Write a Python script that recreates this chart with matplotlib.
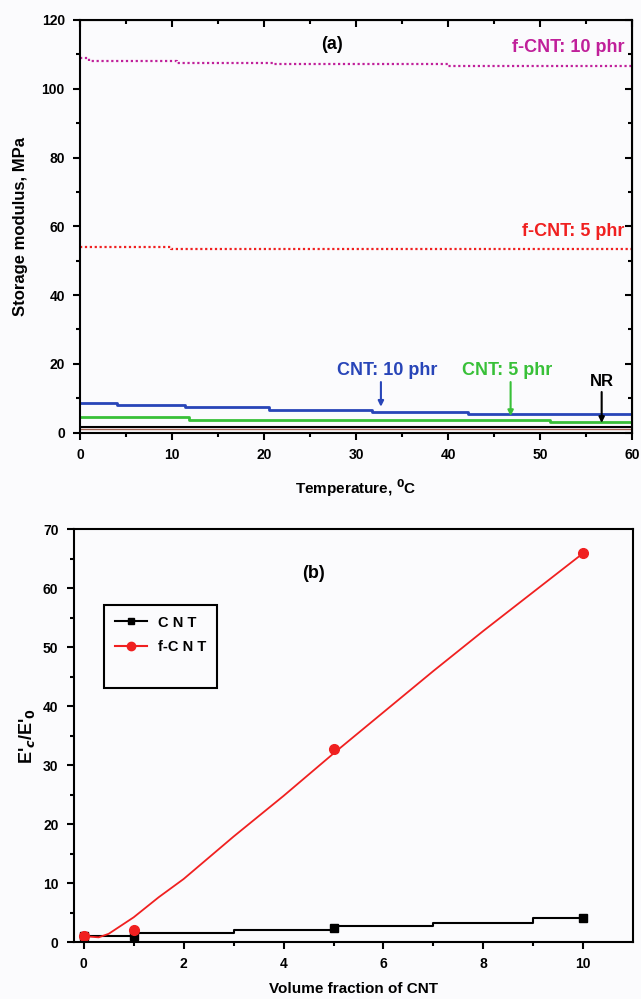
import matplotlib
matplotlib.use("Agg")
import matplotlib.pyplot as plt
from matplotlib.lines import Line2D

plt.rcParams['font.family'] = ['Liberation Sans', 'DejaVu Sans']
plt.rcParams['font.weight'] = 'bold'

# ---- Panel (a) data: storage modulus vs temperature ----
fcnt10_T = [0, 1, 10.5, 21, 40, 60]
fcnt10_E = [108.8, 108.0, 107.6, 107.1, 106.6, 106.6]
fcnt5_T = [0, 9.9, 60]
fcnt5_E = [53.9, 53.4, 53.4]
cnt10_T = [0, 4.0, 11.4, 20.5, 31.7, 42.2, 60]
cnt10_E = [8.5, 7.9, 7.3, 6.6, 6.1, 5.5, 5.5]
cnt5_T = [0, 11.8, 51.1, 60]
cnt5_E = [4.4, 3.7, 3.0, 3.0]
nr_T = [0, 60]
nr_E = [1.7, 1.7]
base_T = [0, 60]
base_E = [0.9, 0.9]

# ---- Panel (b) data: E'c/E'0 vs volume fraction ----
vf = [0, 1, 5, 10]
ratio_cnt = [1.0, 1.1, 2.4, 4.0]
ratio_fcnt = [1.1, 2.0, 32.8, 66.0]
fit_cnt_x = [0, 2, 4, 6, 8, 10]
fit_cnt_y = [1.0, 1.5, 2.1, 2.7, 3.3, 4.0]
fit_fcnt_x = [0, 0.3, 0.5, 1, 1.5, 2, 3, 4, 5, 6, 7, 8, 9, 10]
fit_fcnt_y = [1.0, 0.8, 1.4, 4.2, 7.6, 10.7, 17.9, 24.8, 32.0, 39.0, 46.0, 52.8, 59.4, 66.0]

bg = '#fbfbfd'
fig = plt.figure(figsize=(6.41, 9.99), dpi=100, facecolor=bg)

# ---------- Panel (a) ----------
axa = fig.add_axes([0.125, 0.567, 0.861, 0.413], facecolor=bg)
mag = '#c0209a'
red = '#f02020'
blue = '#2845b8'
green = '#38c038'

axa.plot(fcnt10_T, fcnt10_E, drawstyle='steps-post', color=mag, lw=1.6, ls=(0, (1, 1.2)))
axa.plot(fcnt5_T, fcnt5_E, drawstyle='steps-post', color=red, lw=1.6, ls=(0, (1, 1.2)))
axa.plot(cnt10_T, cnt10_E, drawstyle='steps-post', color=blue, lw=2)
axa.plot(cnt5_T, cnt5_E, drawstyle='steps-post', color=green, lw=2)
axa.plot(nr_T, nr_E, color='black', lw=1.5)
axa.plot(base_T, base_E, color='#a06050', lw=1)

axa.set_xlim(0, 60)
axa.set_ylim(0, 120)
axa.set_xticks(range(0, 61, 10))
axa.set_xticks(range(5, 60, 10), minor=True)
axa.set_yticks(range(0, 121, 20))
axa.set_yticks(range(10, 120, 20), minor=True)
axa.tick_params(direction='out', length=5, width=1.5, labelsize=10, pad=6)
axa.tick_params(which='minor', direction='out', length=3, width=1.5)
for s in axa.spines.values():
    s.set_linewidth(1.5)
sec = axa.secondary_xaxis('top')
sec.set_xticks(range(0, 61, 10))
sec.set_xticks(range(5, 60, 10), minor=True)
sec.tick_params(direction='in', length=5, width=1.5, labeltop=False)
sec.tick_params(which='minor', direction='in', length=3, width=1.5)
secy = axa.secondary_yaxis('right')
secy.set_yticks(range(0, 121, 20))
secy.set_yticks(range(10, 120, 20), minor=True)
secy.tick_params(direction='in', length=5, width=1.5, labelright=False)
secy.tick_params(which='minor', direction='in', length=3, width=1.5)

axa.set_xlabel('Temperature, $^{0}$C', fontsize=11, fontweight='bold', labelpad=11)
axa.set_ylabel('Storage modulus, MPa', fontsize=12, fontweight='bold', labelpad=10)

axa.text(27.4, 113, '(a)', fontsize=13, ha='center', va='center')
axa.text(59.2, 112, 'f-CNT: 10 phr', color=mag, fontsize=13, ha='right', va='center')
axa.text(59.2, 58.5, 'f-CNT: 5 phr', color=red, fontsize=13, ha='right', va='center')
axa.text(33.4, 18, 'CNT: 10 phr', color=blue, fontsize=13, ha='center', va='center')
axa.text(46.4, 18, 'CNT: 5 phr', color=green, fontsize=13, ha='center', va='center')
axa.text(56.7, 14.8, 'NR', color='black', fontsize=12, ha='center', va='center')
for xa, y0, y1, c in [(32.7, 15.5, 6.7, blue), (46.8, 15.5, 4.0, green), (56.7, 12.6, 2.0, 'black')]:
    axa.annotate('', xy=(xa, y1), xytext=(xa, y0),
                 arrowprops=dict(arrowstyle='-|>', color=c, lw=1.5, mutation_scale=8))

# ---------- Panel (b) ----------
axb = fig.add_axes([0.115, 0.057, 0.873, 0.413], facecolor=bg)
axb.plot(fit_cnt_x, fit_cnt_y, drawstyle='steps-mid', color='black', lw=1.5)
axb.plot(fit_fcnt_x, fit_fcnt_y, color=red, lw=1.3)
axb.plot(vf, ratio_cnt, ls='none', marker='s', color='black', ms=6)
axb.plot(vf, ratio_fcnt, ls='none', marker='o', color=red, ms=7)

axb.set_xlim(-0.2, 11)
axb.set_ylim(0, 70)
axb.set_xticks(range(0, 11, 2))
axb.set_xticks(range(1, 11, 2), minor=True)
axb.set_yticks(range(0, 71, 10))
axb.set_yticks(range(5, 70, 10), minor=True)
axb.tick_params(direction='out', length=5, width=1.5, labelsize=10, pad=6)
axb.tick_params(which='minor', direction='out', length=3, width=1.5)
for s in axb.spines.values():
    s.set_linewidth(1.5)

axb.set_xlabel('Volume fraction of CNT', fontsize=11, fontweight='bold', labelpad=8)
axb.set_ylabel("E'$_{c}$/E'$_{0}$", fontsize=13, fontweight='bold', labelpad=4)
axb.text(4.6, 62.5, '(b)', fontsize=13, ha='center', va='center')

handles = [Line2D([], [], color='black', marker='s', ms=5, lw=1.5),
           Line2D([], [], color=red, marker='o', ms=6, lw=1.5),
           Line2D([], [], color='none')]
leg = axb.legend(handles, ['C N T', 'f-C N T', ' '], loc='upper left',
                 bbox_to_anchor=(0.055, 0.816), borderaxespad=0, fontsize=10.5,
                 fancybox=False, edgecolor='black', framealpha=1, facecolor=bg,
                 handlelength=2.2, borderpad=0.7, labelspacing=0.7)
leg.get_frame().set_linewidth(1.5)
for t in leg.get_texts():
    t.set_fontweight('bold')

fig.savefig('out.png', dpi=100, facecolor=bg)
